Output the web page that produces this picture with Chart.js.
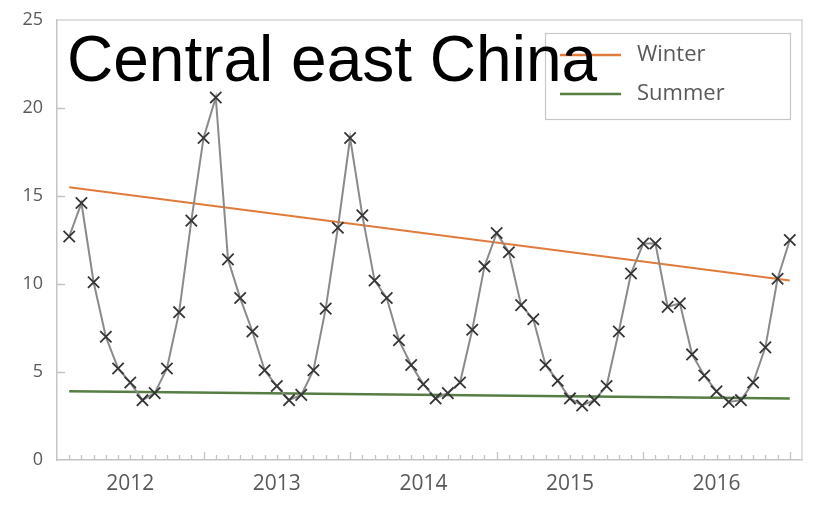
<!DOCTYPE html>
<html>
<head>
<meta charset="utf-8">
<script src="https://cdn.jsdelivr.net/npm/chart.js@4.4.1/dist/chart.umd.min.js"></script>
<style>
  html, body { margin: 0; padding: 0; background: #fff; }
  #wrap { width: 816px; height: 509px; }
</style>
</head>
<body>
<div id="wrap"><canvas id="chart" width="816" height="509"></canvas></div>
<script>
// monthly values, index 0 .. 59
var values = [
    12.7, 14.6, 10.1, 7.0, 5.2, 4.4, 3.4, 3.8, 5.2, 8.4, 13.6, 18.3,
    20.6, 11.4, 9.2, 7.3, 5.1, 4.2, 3.4, 3.7, 5.1, 8.6, 13.2, 18.3,
    13.9, 10.2, 9.2, 6.8, 5.4, 4.3, 3.5, 3.8, 4.4, 7.4, 11.0, 12.9,
    11.8, 8.8, 8.0, 5.4, 4.5, 3.5, 3.1, 3.4, 4.2, 7.3, 10.6, 12.3,
    12.3, 8.7, 8.9, 6.0, 4.8, 3.9, 3.3, 3.4, 4.4, 6.4, 10.3, 12.5
];
var yearLabels = ['2012', '2013', '2014', '2015', '2016'];
var yearLabelIndex = [5, 17, 29, 41, 53];
var majorTickIndex = [11, 23, 35, 47, 59];
var trendIndex = [0, 59];
var winterTrend = [15.5, 10.2];
var summerTrend = [3.9, 3.5];
var titleText = 'Central east China';

var AXIS_GREY = '#c4c4c4';
var TEXT_GREY = '#595959';

function toPoints(idx, vals) {
    return idx.map(function(x, i) { return { x: x, y: vals[i] }; });
}

// inward tick marks, plot frame, title, legend box
var decorPlugin = {
    id: 'decor',
    beforeDatasetsDraw: function(chart) {
        var ctx = chart.ctx, a = chart.chartArea;
        var xs = chart.scales.x, ys = chart.scales.y;
        ctx.save();
        ctx.strokeStyle = '#d6d6d6';
        ctx.lineWidth = 1.5;
        ctx.beginPath();
        ctx.moveTo(a.left, a.top); ctx.lineTo(a.right, a.top); ctx.lineTo(a.right, a.bottom);
        ctx.stroke();
        ctx.strokeStyle = AXIS_GREY;
        ctx.lineWidth = 1.3;
        ctx.beginPath();
        for (var i = 0; i < values.length; i++) {
            var px = Math.round(xs.getPixelForValue(i)) + 0.5;
            var len = majorTickIndex.indexOf(i) >= 0 ? 8 : 5;
            ctx.moveTo(px, a.bottom); ctx.lineTo(px, a.bottom - len);
        }
        [5, 10, 15, 20].forEach(function(v) {
            var py = Math.round(ys.getPixelForValue(v)) + 0.5;
            ctx.moveTo(a.left, py); ctx.lineTo(a.left + 8, py);
        });
        ctx.stroke();
        ctx.restore();
    },
    afterDraw: function(chart) {
        var ctx = chart.ctx;
        ctx.save();
        // legend
        ctx.fillStyle = '#fff';
        ctx.fillRect(545, 33, 245, 86);
        ctx.strokeStyle = '#c8c8c8';
        ctx.lineWidth = 1.2;
        ctx.strokeRect(545.5, 33.5, 245, 86);
        var entries = chart.data.datasets.filter(function(d) { return d.inLegend; });
        entries.forEach(function(d, i) {
            var y = 55 + i * 39;
            ctx.strokeStyle = d.borderColor;
            ctx.lineWidth = 2.5;
            ctx.beginPath(); ctx.moveTo(560, y); ctx.lineTo(621, y); ctx.stroke();
            ctx.fillStyle = TEXT_GREY;
            ctx.font = '22px "Open Sans"';
            ctx.textBaseline = 'middle';
            ctx.fillText(d.label, 637, y);
        });
        // title sits over plot and legend
        ctx.fillStyle = '#000';
        ctx.font = '64px "Liberation Sans", Arial, sans-serif';
        ctx.textBaseline = 'alphabetic';
        ctx.fillText(titleText, 67, 81);
        ctx.restore();
    }
};

var chart = new Chart(document.getElementById('chart'), {
    type: 'line',
    data: {
        datasets: [
            {
                label: 'Monthly',
                data: values.map(function(v, i) { return { x: i, y: v }; }),
                borderColor: '#8a8a8a',
                borderWidth: 2,
                pointStyle: 'crossRot',
                pointRadius: 8,
                pointBorderColor: '#353535',
                pointBorderWidth: 1.8,
                tension: 0,
                order: 0
            },
            {
                label: 'Winter',
                inLegend: true,
                data: toPoints(trendIndex, winterTrend),
                borderColor: '#e07b3c',
                borderWidth: 2,
                pointRadius: 0,
                order: 1
            },
            {
                label: 'Summer',
                inLegend: true,
                data: toPoints(trendIndex, summerTrend),
                borderColor: '#567d43',
                borderWidth: 2.5,
                pointRadius: 0,
                order: 1
            }
        ]
    },
    options: {
        responsive: false,
        animation: false,
        layout: { padding: { top: 20, right: 14, left: 0, bottom: 0 } },
        plugins: { legend: { display: false }, tooltip: { enabled: false } },
        scales: {
            x: {
                type: 'linear', min: -1, max: 60,
                grid: { display: false, drawTicks: false },
                border: { display: true, color: AXIS_GREY, width: 1.5 },
                afterBuildTicks: function(scale) {
                    scale.ticks = yearLabelIndex.map(function(v) { return { value: v }; });
                },
                afterFit: function(scale) { scale.height = 49; scale.paddingLeft = 0; scale.paddingRight = 0; },
                ticks: {
                    autoSkip: false, maxRotation: 0, padding: 11,
                    color: TEXT_GREY,
                    font: { family: '"Open Sans"', size: 21 },
                    callback: function(value) {
                        var k = yearLabelIndex.indexOf(value);
                        return k >= 0 ? yearLabels[k] : '';
                    }
                }
            },
            y: {
                min: 0, max: 25,
                grid: { display: false, drawTicks: false },
                border: { display: true, color: AXIS_GREY, width: 1.5 },
                afterFit: function(scale) { scale.width = 57; scale.paddingTop = 0; scale.paddingBottom = 0; },
                ticks: {
                    stepSize: 5, padding: 14,
                    color: TEXT_GREY,
                    font: { family: '"Open Sans"', size: 18 }
                }
            }
        }
    },
    plugins: [decorPlugin]
});
</script>
</body>
</html>
